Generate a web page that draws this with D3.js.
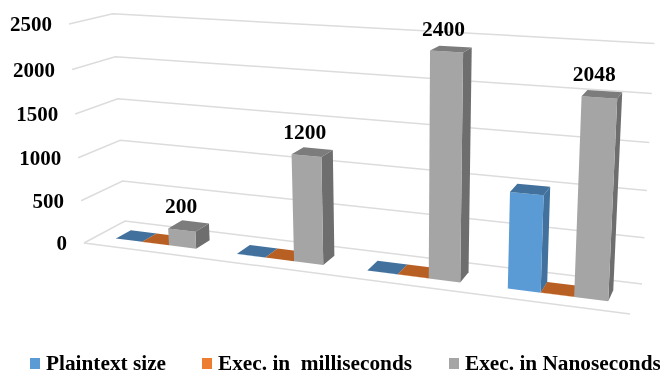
<!DOCTYPE html>
<html>
<head>
<meta charset="utf-8">
<script src="https://cdn.jsdelivr.net/npm/d3@7"></script>
<style>
  html, body { margin: 0; padding: 0; background: #fff; }
  svg { display: block; filter: blur(0.4px); }
  text { font-family: "Liberation Serif", serif; font-weight: bold; fill: #000; white-space: pre; }
</style>
</head>
<body>
<svg id="chart" width="660" height="374"></svg>
<script>
const categories = ['A', 'B', 'C', 'D'];
const seriesNames = ['Plaintext size', 'Exec. in  milliseconds', 'Exec. in Nanoseconds'];
const plaintextSize = [2, 2, 2, 1024];
const execMilliseconds = [1, 1, 2, 2];
const execNanoseconds = [200, 1200, 2400, 2048];
const tickValues = [0, 500, 1000, 1500, 2000, 2500];

const seriesValues = [plaintextSize, execMilliseconds, execNanoseconds];
const faceColors = [
  { front: '#5b9bd5', top: '#41719c', side: '#41719c' },
  { front: '#ed7d31', top: '#b85f24', side: '#a9591f' },
  { front: '#a5a5a5', top: '#7c7c7c', side: '#6e6e6e' }
];
const legendColors = ['#5b9bd5', '#ed7d31', '#a5a5a5'];

const svg = d3.select('#chart');

// scales work in unit space, project() turns them into screen pixels
const uScale = d3.scaleBand().domain(categories).range([0, 1]).paddingInner(0.33).paddingOuter(0.165);
const barScale = d3.scaleBand().domain(d3.range(seriesNames.length)).range([0, uScale.bandwidth()]);
const vScale = d3.scaleLinear().domain([0, 2500]).range([0, 1]);
const depthFront = 0.3;
const depthBack = 0.67;

// perspective fitted to the corners of the floor and the walls
function project(u, d, value)
{
  const v = vScale(value);
  const w = 1 - 0.142 * u + 0.0594 * d - 0.045 * v;
  return [
    (84 + 456.57 * u + 48.42 * d - 18.1 * v) / w,
    (243 + 26.43 * u - 8.87 * d - 220.1 * v) / w - 3 * u * v
  ];
}

const line = d3.line();

// Gridlines
const gridGroup = svg.append('g')
  .attr('fill', 'none')
  .attr('stroke', '#dcdcdc')
  .attr('stroke-width', 1.5);

gridGroup.selectAll('path')
  .data(tickValues)
  .enter()
  .append('path')
  .attr('d', d => line([project(0, 0, d), project(0, 1, d), project(1, 1, d)]));

gridGroup.append('path')
  .attr('d', line([project(0, 0, 0), project(1, 0, 0)]));

// Tick labels
svg.append('g')
  .selectAll('text')
  .data(tickValues)
  .enter()
  .append('text')
  .attr('x', d => project(0, 0, d)[0] - 17)
  .attr('y', d => project(0, 0, d)[1])
  .attr('dy', '0.35em')
  .attr('text-anchor', 'end')
  .style('font-size', '21px')
  .text(d => d);

// Bars, cluster by cluster, left to right
categories.forEach((category, c) =>
{
  const group = svg.append('g');
  seriesValues.forEach((values, s) =>
  {
    const u0 = uScale(category) + barScale(s);
    const u1 = u0 + barScale.bandwidth();
    const value = values[c];
    const colors = faceColors[s];

    group.append('path')
      .attr('fill', colors.side)
      .attr('d', line([
        project(u1, depthFront, 0), project(u1, depthBack, 0),
        project(u1, depthBack, value), project(u1, depthFront, value)
      ]) + 'Z');
    group.append('path')
      .attr('fill', colors.front)
      .attr('d', line([
        project(u0, depthFront, 0), project(u1, depthFront, 0),
        project(u1, depthFront, value), project(u0, depthFront, value)
      ]) + 'Z');
    group.append('path')
      .attr('fill', colors.top)
      .attr('d', line([
        project(u0, depthFront, value), project(u1, depthFront, value),
        project(u1, depthBack, value), project(u0, depthBack, value)
      ]) + 'Z');
  });
});

// Data labels above the gray bars
svg.append('g')
  .selectAll('text')
  .data(execNanoseconds)
  .enter()
  .append('text')
  .attr('x', (d, i) => project(uScale(categories[i]) + barScale(2) + barScale.bandwidth() / 2, 0.5, d)[0] - 8)
  .attr('y', (d, i) => project(uScale(categories[i]) + barScale(2) + barScale.bandwidth() / 2, 0.5, d)[1] - 13)
  .attr('text-anchor', 'middle')
  .style('font-size', '21.5px')
  .text(d => d);

// Legend
const legendX = [30, 202, 449];
const legendItem = svg.append('g')
  .selectAll('g')
  .data(seriesNames)
  .enter()
  .append('g')
  .attr('transform', (d, i) => `translate(${ legendX[i] }, 358)`);

legendItem.append('rect')
  .attr('width', 10)
  .attr('height', 11)
  .attr('fill', (d, i) => legendColors[i]);

legendItem.append('text')
  .attr('x', 16)
  .attr('y', 12)
  .style('font-size', '21.3px')
  .text(d => d);
</script>
</body>
</html>
